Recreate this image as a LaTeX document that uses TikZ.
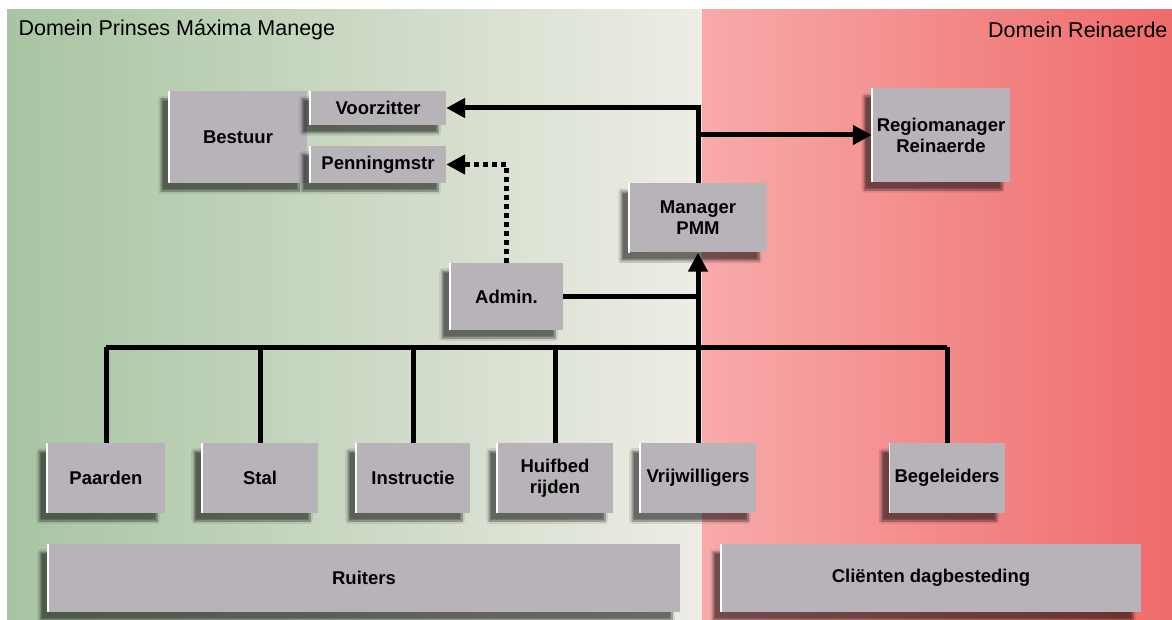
\documentclass[tikz,border=0pt]{standalone}
\usepackage{fontspec}
\setmainfont{Liberation Sans}
\usetikzlibrary{arrows.meta}
\usetikzlibrary{shadows.blur}

\definecolor{boxgray}{HTML}{B7B3B8}
\definecolor{greenL}{HTML}{A8C4A2}
\definecolor{greenM}{HTML}{C2CEB9}
\definecolor{greenR}{HTML}{EEEDE6}
\definecolor{pinkL}{HTML}{F8AAAA}
\definecolor{pinkR}{HTML}{EF6B6B}

\begin{document}
\begin{tikzpicture}[x=1pt, y=-1pt, every node/.style={font=\fontsize{18.5}{21}\selectfont\bfseries}]

		\useasboundingbox (0,0) rectangle (1172,620);
		% the two domains
		\fill[white] (0,0) rectangle (1172,620);
		\shade[left color=greenL, middle color=greenM, right color=greenR] (7,10) rectangle (702,620);
		\shade[left color=pinkL, right color=pinkR] (702,10) rectangle (1172,620);

		\node[anchor=west, font=\fontsize{21.5}{24}\selectfont] (titlePMM) at (15,30) {Domein Prinses Máxima\ Manege};
		\node[anchor=east, font=\fontsize{21.5}{24}\selectfont] (titleRein) at (1171,30) {Domein Reinaerde};

		\tikzset{box/.style={fill=boxgray, align=center, inner sep=0pt,
				blur shadow={shadow xshift=-8pt, shadow yshift=-8pt, shadow opacity=55, shadow blur steps=10},
				append after command={(\tikzlastnode.north west) edge[draw=white, line width=1.5pt] (\tikzlastnode.south west)}},
			conn/.style={line width=5pt, black},
			tip/.style={-{Triangle[length=19pt, width=19pt]}}}

		% top part
		\node[box, minimum width=138, minimum height=92] (bestuur) at (238,137) {Bestuur};
		\node[box, minimum width=136, minimum height=34] (voorz) at (378,108) {Voorzitter};
		\node[box, minimum width=136, minimum height=37] (penn) at (378,164.5) {Penningmstr};
		\node[box, minimum width=138, minimum height=94] (regio) at (941,135) {Regiomanager\\Reinaerde};
		\node[box, minimum width=138, minimum height=69] (manager) at (698,218) {Manager\\PMM};
		\node[box, minimum width=113, minimum height=67] (admin) at (506.5,296.5) {Admin.};

		% units
		\node[box, minimum width=118, minimum height=70] (paarden) at (106,478) {Paarden};
		\node[box, minimum width=116, minimum height=70] (stal) at (260,478) {Stal};
		\node[box, minimum width=114, minimum height=70] (instr) at (413,478) {Instructie};
		\node[box, minimum width=116, minimum height=70] (huif) at (555,478) {Huifbed\\rijden};
		\node[box, minimum width=116, minimum height=70] (vrij) at (698,478) {Vrijwilligers};
		\node[box, minimum width=115, minimum height=70] (begel) at (947,478) {Begeleiders};

		\node[box, minimum width=632, minimum height=68] (ruiters) at (364,578) {Ruiters};
		\node[box, minimum width=420, minimum height=68] (clienten) at (931,578) {Cliënten dagbesteding};

		% lines
		\coordinate (bus) at (698,347);
		\draw[conn] (paarden.north |- bus) -- (begel.north |- bus);
		\foreach \n in {paarden,stal,instr,huif,vrij,begel}{\draw[conn] (\n.north |- bus) -- (\n.north);}
		\draw[conn, tip] (bus) -- (manager.south);
		\draw[conn] (admin.east) -- (admin.east -| manager.south);
		\draw[conn, tip] (manager.north) |- (voorz.east);
		\draw[conn, tip] (manager.north |- regio.west) -- (regio.west);
		\draw[conn, tip, line width=5.5pt, dash pattern=on 5pt off 4pt] (admin.north) |- (penn.east);
	\end{tikzpicture}
\end{document}
